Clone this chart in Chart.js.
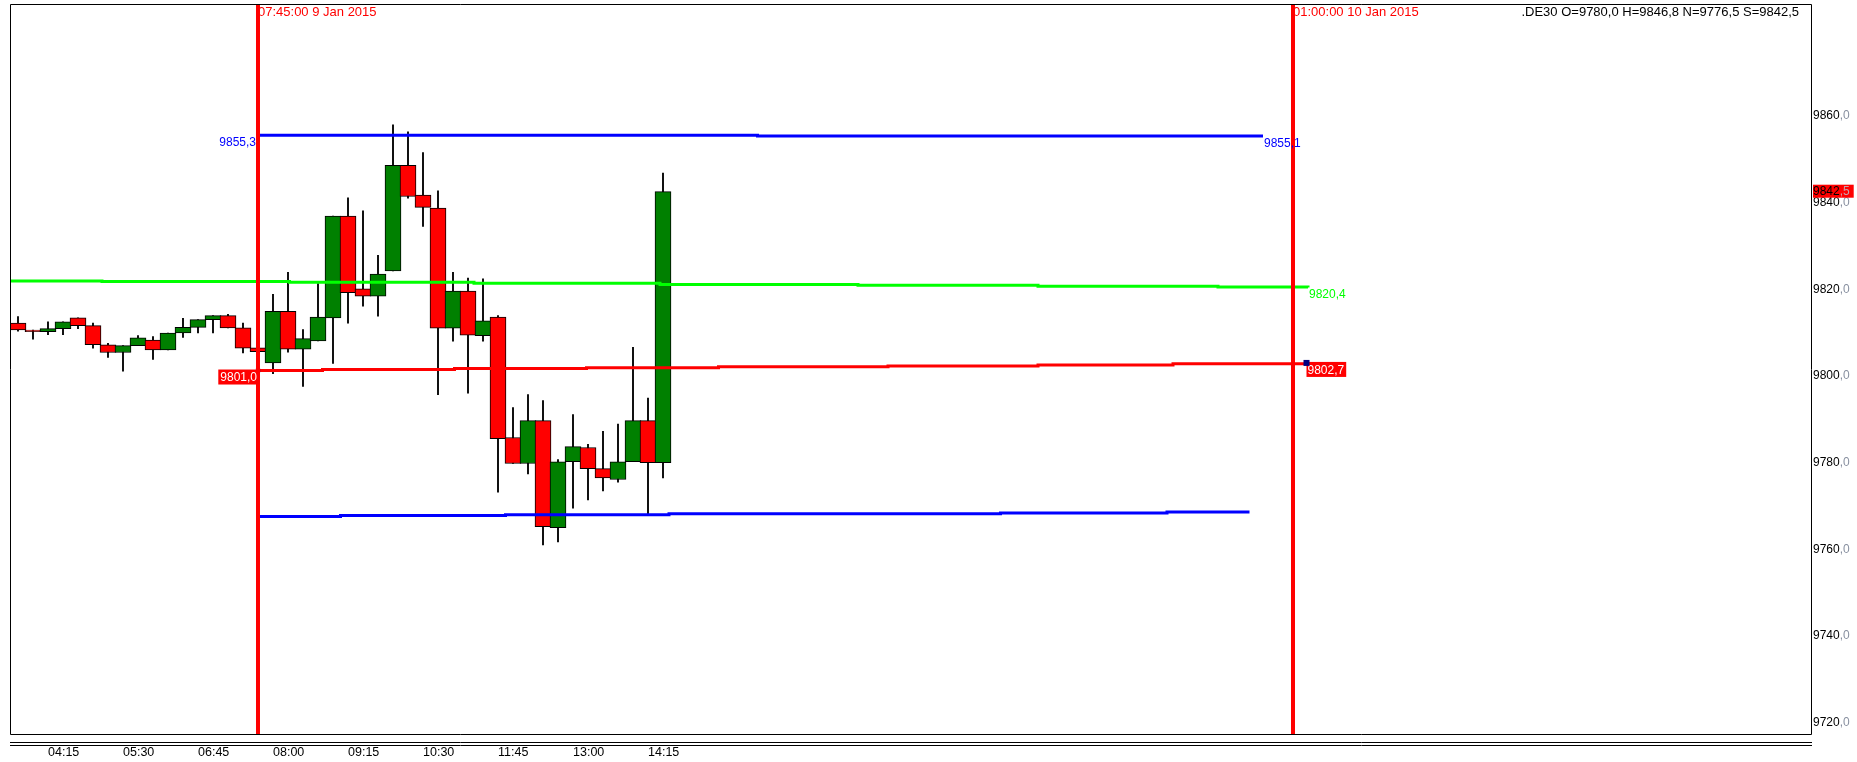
<!DOCTYPE html>
<html>
<head>
<meta charset="utf-8">
<title>.DE30 15 min</title>
<script src="https://cdn.jsdelivr.net/npm/chart.js@4/dist/chart.umd.min.js"></script>
<style>
html, body { margin: 0; padding: 0; background: #fff; }
canvas { display: block; }
</style>
</head>
<body>
<canvas id="PriceChart" width="1857" height="762"></canvas>
<script>
// 15 minute candles, 9 Jan 2015, 03:45 .. 14:30
var opens  = [9812.2, 9810.6, 9810.2, 9810.9, 9813.4, 9811.6, 9807.2, 9805.4, 9807.0, 9808.3,
              9806.0, 9809.9, 9811.2, 9813.0, 9813.9, 9811.1, 9806.5, 9803.0, 9814.9, 9806.2,
              9808.1, 9813.4, 9836.9, 9820.1, 9818.4, 9824.2, 9848.6, 9841.7, 9838.7, 9811.0,
              9819.6, 9809.3, 9813.6, 9785.8, 9779.8, 9789.7, 9765.0, 9780.2, 9783.5, 9778.6,
              9776.1, 9780.2, 9789.7, 9780.0];
var highs  = [9813.7, 9810.6, 9812.5, 9812.5, 9813.4, 9812.2, 9807.5, 9807.0, 9809.3, 9809.1,
              9809.9, 9813.3, 9813.0, 9813.9, 9814.2, 9812.2, 9806.5, 9818.8, 9823.9, 9810.7,
              9821.3, 9836.9, 9841.1, 9838.1, 9827.8, 9857.9, 9856.3, 9851.5, 9842.7, 9823.9,
              9822.6, 9822.4, 9813.9, 9792.7, 9795.7, 9794.3, 9780.7, 9791.1, 9784.2, 9787.2,
              9788.9, 9806.6, 9794.9, 9846.8];
var lows   = [9810.3, 9808.5, 9809.5, 9809.5, 9810.9, 9806.4, 9804.3, 9801.1, 9807.0, 9803.8,
              9806.0, 9808.9, 9809.9, 9809.9, 9811.1, 9805.3, 9805.6, 9800.5, 9805.5, 9797.6,
              9808.1, 9802.9, 9812.2, 9816.1, 9813.8, 9824.2, 9841.0, 9834.5, 9795.7, 9808.0,
              9796.0, 9808.0, 9773.2, 9779.8, 9777.4, 9761.0, 9761.7, 9769.5, 9771.4, 9773.5,
              9775.5, 9780.2, 9768.2, 9776.5];
var closes = [9810.6, 9810.2, 9810.9, 9812.5, 9811.6, 9807.2, 9805.4, 9807.0, 9808.8, 9806.0,
              9809.9, 9811.2, 9813.0, 9813.9, 9811.1, 9806.4, 9805.6, 9814.9, 9806.2, 9808.6,
              9813.6, 9836.9, 9819.2, 9818.4, 9823.5, 9848.6, 9841.4, 9838.9, 9811.0, 9819.6,
              9809.4, 9812.7, 9785.5, 9779.8, 9789.7, 9765.2, 9780.2, 9783.7, 9778.6, 9776.5,
              9780.2, 9789.7, 9780.0, 9842.5];

var tickIdx    = [2, 7, 12, 17, 22, 27, 32, 37, 42];
var tickLabels = ["04:15", "05:30", "06:45", "08:00", "09:15", "10:30", "11:45", "13:00", "14:15"];
var priceTicks = [9720, 9740, 9760, 9780, 9800, 9820, 9840, 9860];

// session markers (candle index) and their captions
var markerIdx    = [16, 85];
var markerLabels = ["07:45:00 9 Jan 2015", "01:00:00 10 Jan 2015"];

// level lines, stepped: candle index / price
var blueHighX = [16, 49.3, 83];
var blueHighY = [9855.5, 9855.35, 9855.35];
var blueLowX  = [16, 21.5, 32.5, 43.4, 65.5, 76.6, 82.1];
var blueLowY  = [9767.6, 9767.8, 9768.0, 9768.2, 9768.4, 9768.6, 9768.6];
var greenX    = [-0.53, 5.6, 18.1, 30.4, 42.8, 56, 68, 80, 86];
var greenY    = [9821.9, 9821.8, 9821.6, 9821.4, 9821.1, 9820.9, 9820.7, 9820.5, 9820.4];
var redX      = [16, 20.3, 29.1, 37.9, 46.7, 58, 68, 77, 85.9];
var redY      = [9801.25, 9801.5, 9801.7, 9801.9, 9802.1, 9802.3, 9802.5, 9802.8, 9803.0];
var levelText = ["9855,3", "9855,1", "9820,4", "9801,0", "9802,7"];

var FONT = "'Liberation Sans', Arial, sans-serif";
var GREEN = "#008000", RED = "#ff0000";

function pts(xs, ys) {
	return xs.map(function(x, i) { return {x: x, y: ys[i]}; });
}
function fmt(v) {
	return v.toFixed(1).replace(".", ",");
}
// black integer part, grey decimals
function twoTone(ctx, txt, x, y, tail) {
	var p = txt.split(",");
	ctx.textAlign = "left";
	ctx.fillStyle = "#000";
	ctx.fillText(p[0], x, y);
	var w = ctx.measureText(p[0]).width;
	ctx.fillStyle = tail;
	ctx.fillText("," + p[1], x + w, y);
}

var bodies = opens.map(function(o, i) { return {x: i, y: [o, closes[i]]}; });
var wicks  = opens.map(function(o, i) { return {x: i, y: [lows[i], highs[i]]}; });
var bodyColors = opens.map(function(o, i) { return closes[i] >= o ? GREEN : RED; });

var yMin = 9717.4, yMax = 9885.8;

var decor = {
	id: "decor",
	afterDraw: function(chart) {
		var ctx = chart.ctx, a = chart.chartArea;
		var xs = chart.scales.x, ys = chart.scales.y;
		ctx.save();

		// frame and the double rule under it
		ctx.strokeStyle = "#000";
		ctx.lineWidth = 1;
		ctx.beginPath();
		ctx.moveTo(a.left + 0.5, a.top + 0.5);
		ctx.lineTo(a.right + 0.5, a.top + 0.5);
		ctx.lineTo(a.right + 0.5, a.bottom + 0.5);
		ctx.lineTo(a.left + 0.5, a.bottom + 0.5);
		ctx.closePath();
		ctx.moveTo(a.left, a.bottom + 8.5);
		ctx.lineTo(a.right + 1, a.bottom + 8.5);
		ctx.moveTo(a.left, a.bottom + 11.5);
		ctx.lineTo(a.right + 1, a.bottom + 11.5);
		ctx.stroke();

		ctx.textBaseline = "middle";

		// price axis
		ctx.font = "12px " + FONT;
		priceTicks.forEach(function(v) {
			twoTone(ctx, fmt(v), a.right + 2, ys.getPixelForValue(v), "#8890a0");
		});
		var last = closes[closes.length - 1];
		var ly = ys.getPixelForValue(last);
		var lw = ctx.measureText(fmt(last)).width;
		ctx.fillStyle = RED;
		ctx.fillRect(a.right + 2, ly - 7, lw + 4, 13);
		twoTone(ctx, fmt(last), a.right + 2, ly, "#c8a0a8");

		// time axis
		ctx.font = "12.5px " + FONT;
		ctx.fillStyle = "#000";
		ctx.textAlign = "left";
		tickIdx.forEach(function(idx, i) {
			ctx.fillText(tickLabels[i], xs.getPixelForValue(idx), a.bottom + 19);
		});

		// marker captions and quote header
		ctx.font = "13px " + FONT;
		ctx.fillStyle = RED;
		markerIdx.forEach(function(idx, i) {
			ctx.fillText(markerLabels[i], xs.getPixelForValue(idx), a.top + 8);
		});
		var n = opens.length - 1;
		ctx.fillStyle = "#000";
		ctx.textAlign = "right";
		ctx.fillText(".DE30 O=" + fmt(opens[n]) + " H=" + fmt(highs[n]) + " N=" + fmt(lows[n]) + " S=" + fmt(closes[n]),
			a.right - 12, a.top + 8);

		// level captions
		ctx.font = "12px " + FONT;
		function cap(txt, x, y, align, color, box) {
			ctx.textAlign = align;
			var w = ctx.measureText(txt).width;
			if (box) {
				ctx.fillStyle = box;
				ctx.fillRect(align === "right" ? x - w - 3 : x, y - 1, w + 3, 15);
			}
			ctx.fillStyle = color;
			ctx.fillText(txt, align === "right" ? x - 1 : x + 1, y + 7.5);
		}
		cap(levelText[0], xs.getPixelForValue(blueHighX[0]) - 1, ys.getPixelForValue(blueHighY[0]), "right", "#0000ff");
		cap(levelText[1], xs.getPixelForValue(blueHighX[blueHighX.length - 1]), ys.getPixelForValue(blueHighY[blueHighY.length - 1]), "left", "#0000ff");
		cap(levelText[2], xs.getPixelForValue(greenX[greenX.length - 1]), ys.getPixelForValue(greenY[greenY.length - 1]), "left", "#00ff00");
		cap(levelText[3], xs.getPixelForValue(redX[0]), ys.getPixelForValue(redY[0]), "right", "#fff", RED);
		cap(levelText[4], xs.getPixelForValue(redX[redX.length - 1]), ys.getPixelForValue(redY[redY.length - 1]), "left", "#fff", RED);
		var sx = xs.getPixelForValue(redX[redX.length - 1]), sy = ys.getPixelForValue(redY[redY.length - 1]);
		ctx.fillStyle = "#000080";
		ctx.fillRect(sx - 3, sy - 3, 6, 6);
		ctx.restore();
	}
};

var redPointR = redX.map(function(x, i) { return i === 0 ? 3 : 0; });

new Chart(document.getElementById("PriceChart").getContext("2d"), {
	type: "bar",
	data: {
		datasets: [
			{type: "bar", data: wicks, backgroundColor: "#000", borderWidth: 0, barThickness: 1.2, grouped: false, order: 9},
			{type: "bar", data: bodies, backgroundColor: bodyColors, borderColor: "#000", borderWidth: 1,
				borderSkipped: false, barThickness: 16, grouped: false, order: 8},
			{type: "line", data: pts(greenX, greenY), borderColor: "#00ff00", borderWidth: 3, stepped: true, pointRadius: 0, order: 5},
			{type: "line", data: pts(blueHighX, blueHighY), borderColor: "#0000ff", borderWidth: 3, stepped: true, pointRadius: 0, order: 4},
			{type: "line", data: pts(blueLowX, blueLowY), borderColor: "#0000ff", borderWidth: 3, stepped: true, pointRadius: 0, order: 4},
			{type: "line", data: pts(redX, redY), borderColor: RED, borderWidth: 3, stepped: true,
				pointRadius: redPointR, pointStyle: "rect", pointBackgroundColor: "#000080", pointBorderWidth: 0, order: 3},
			{type: "line", data: [{x: markerIdx[0], y: yMin}, {x: markerIdx[0], y: yMax}], borderColor: RED, borderWidth: 4, pointRadius: 0, order: 1},
			{type: "line", data: [{x: markerIdx[1], y: yMin}, {x: markerIdx[1], y: yMax}], borderColor: RED, borderWidth: 4, pointRadius: 0, order: 1}
		]
	},
	options: {
		responsive: false,
		animation: false,
		devicePixelRatio: 1,
		layout: {padding: {left: 10, right: 46, top: 3, bottom: 28}},
		plugins: {
			legend: {display: false},
			tooltip: {enabled: false}
		},
		scales: {
			x: {type: "linear", min: -0.5333, max: 119.5333, offset: false, display: false},
			y: {min: yMin, max: yMax, display: false}
		}
	},
	plugins: [decor]
});
</script>
</body>
</html>
